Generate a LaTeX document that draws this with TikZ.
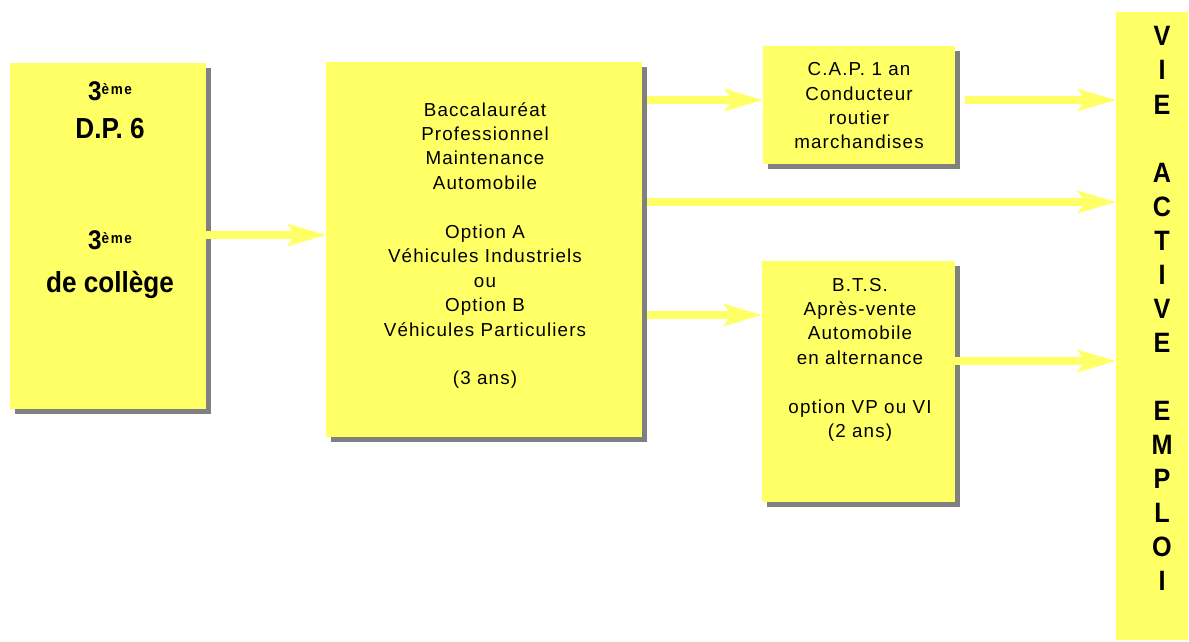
\documentclass[tikz,border=0pt]{standalone}
\usepackage{fontspec}
\setmainfont{Liberation Sans}
\newfontfamily\bodyfont{Liberation Sans}[LetterSpace=6]
\newfontfamily\boldfont{Liberation Sans}[FakeStretch=0.9]
\usetikzlibrary{arrows.meta,shadows,calc}
\definecolor{boxyellow}{HTML}{FFFF66}
\definecolor{shadowgray}{HTML}{808080}
\newcommand\troisieme{{\fontsize{27}{30}\selectfont 3}\raisebox{6pt}{\fontsize{15}{16}\selectfont\addfontfeature{LetterSpace=10}ème}}
\begin{document}
\begin{tikzpicture}[x=1pt,y=-1pt,
  box/.style={fill=boxyellow, draw=none, inner sep=0pt, rectangle,
    drop shadow={shadow xshift=5pt, shadow yshift=-5pt, fill=shadowgray, opacity=1}},
  plainbox/.style={fill=boxyellow, draw=none, inner sep=0pt, rectangle},
  txt/.style={inner sep=0pt, anchor=base, font=\bodyfont\fontsize{18.8}{24.45}\selectfont},
  lefttxt/.style={inner sep=0pt, anchor=base, font=\boldfont\bfseries},
  colletter/.style={inner sep=0pt, anchor=base, font=\boldfont\bfseries\fontsize{28}{30}\selectfont},
  flow/.style={draw=boxyellow, line width=7.5pt,
    -{Stealth[length=39pt, width=23pt, inset=9pt, line width=0pt]}}]
\useasboundingbox (0,0) rectangle (1189,642);

% boxes
\node[box, minimum width=196pt, minimum height=346pt] (left) at (108,236) {};
\node[box, minimum width=316pt, minimum height=375pt] (bac) at (484,249.5) {};
\node[box, minimum width=192pt, minimum height=118pt] (cap) at (859,105) {};
\node[box, minimum width=193pt, minimum height=241pt] (bts) at (858.5,381.5) {};
\node[plainbox, minimum width=72pt, minimum height=628pt] (col) at (1152,326) {};

% left texts
\node[lefttxt] (l1) at (110,100) {\troisieme};
\node[lefttxt] (l2) at (110,138) {\fontsize{29}{32}\selectfont D.P. 6};
\node[lefttxt] (l3) at (110,249) {\troisieme};
\node[lefttxt] (l4) at (110,292) {\fontsize{29}{32}\selectfont de collège};

% bac texts
\foreach \k/\t in {0/Baccalauréat,1/Professionnel,2/Maintenance,3/Automobile,
  5/Option A,6/Véhicules Industriels,7/ou,8/Option B,9/Véhicules Particuliers,11/{(3 ans)}}
  \node[txt] (bac-\k) at (485,{116+24.45*\k}) {\t};

% CAP texts
\foreach \k/\t in {0/C.A.P. 1 an,1/Conducteur,2/routier,3/marchandises}
  \node[txt] (cap-\k) at (859,{76+24*\k}) {\t};

% BTS texts
\foreach \k/\t in {0/B.T.S.,1/Après-vente,2/Automobile,3/en alternance,5/option VP ou VI,6/{(2 ans)}}
  \node[txt] (bts-\k) at (860,{291+24.45*\k}) {\t};

% column letters
\foreach \k/\c in {0/V,1/I,2/E,4/A,5/C,6/T,7/I,8/V,9/E,11/E,12/M,13/P,14/L,15/O,16/I}
  \node[colletter] (col-\k) at (1162,{46+34*\k}) {\c};

% arrow levels
\coordinate (yA) at (0,235);
\coordinate (yB) at (0,100);
\coordinate (yC) at (0,202);
\coordinate (yD) at (0,315);
\coordinate (yE) at (0,361);

% arrows
\draw[flow] (left.east |- yA) -- (bac.west |- yA);
\draw[flow] ($(bac.east |- yB)+(5,0)$) -- (cap.west |- yB);
\draw[flow] ($(cap.east |- yB)+(10,0)$) -- (col.west |- yB);
\draw[flow] ($(bac.east |- yC)+(5,0)$) -- (col.west |- yC);
\draw[flow] ($(bac.east |- yD)+(5,0)$) -- (bts.west |- yD);
\draw[flow] (bts.east |- yE) -- (col.west |- yE);
\end{tikzpicture}
\end{document}
